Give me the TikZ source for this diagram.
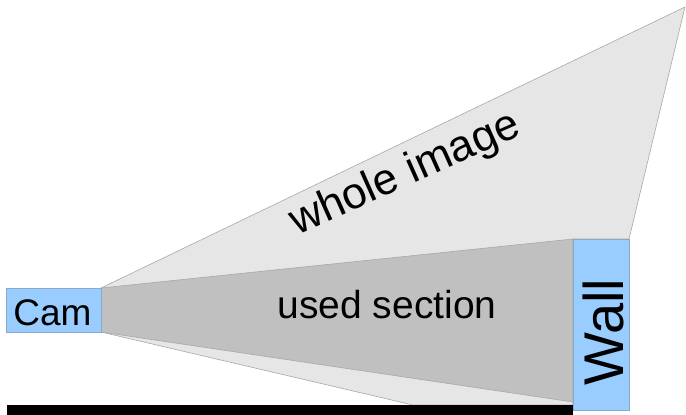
\documentclass[tikz,border=0pt]{standalone}
\usepackage{fontspec}
\setmainfont{Liberation Sans}
\definecolor{boxblue}{HTML}{99CCFF}
\definecolor{boxedge}{HTML}{8AA9C8}
\definecolor{wholefill}{HTML}{E6E6E6}
\definecolor{usedfill}{HTML}{C0C0C0}
\definecolor{polyedge}{HTML}{A8A8A8}
\tikzset{
  blueblock/.style={draw=boxedge, fill=boxblue, line width=0.8pt, inner sep=0pt},
  label text/.style={inner sep=0pt, anchor=base, text=black},
}
\begin{document}
\begin{tikzpicture}[x=1pt, y=-1pt]
\useasboundingbox (0,0) rectangle (686,415);
% whole image (light grey)
\fill[wholefill, draw=polyedge, line width=0.6pt]
  (101,288) -- (685,7) -- (629,239) -- (573,239) -- (573,405) -- (413,405) -- (101,332) -- cycle;
% used section (darker grey)
\fill[usedfill, draw=polyedge, line width=0.6pt]
  (101,288) -- (573,239) -- (573,402) -- (101,332) -- cycle;
% floor
\fill[black] (7,405) rectangle (573,415);
% camera and wall blocks
\node[blueblock, minimum width=95pt, minimum height=44pt] (cam) at (53.5,310) {};
\node[blueblock, minimum width=56pt, minimum height=171pt] (wall) at (601,324.5) {};
% texts
\node[label text, font=\fontsize{37}{40}\selectfont] (camtext) at (52.5,325) {Cam};
\node[label text, font=\fontsize{39}{42}\selectfont] (usedtext) at (387,318) {used section};
\node[label text, font=\fontsize{44}{48}\selectfont, rotate=24] (wholetext) at (410,185) {whole image};
\node[label text, font=\fontsize{56}{60}\selectfont, rotate=90] (walltext) at (623,332) {Wall};
\end{tikzpicture}
\end{document}
